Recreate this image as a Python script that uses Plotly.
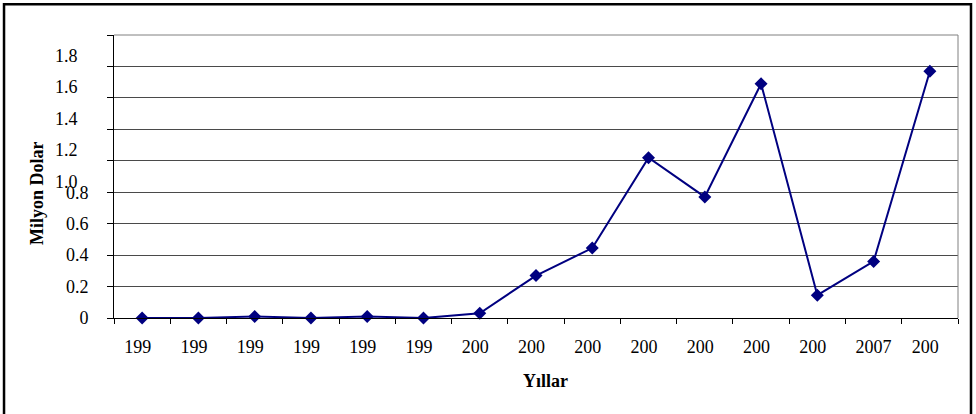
import plotly.graph_objects as go

years = [1994, 1995, 1996, 1997, 1998, 1999, 2000, 2001, 2002, 2003, 2004, 2005, 2006, 2007, 2008]
values = [0.0, 0.0, 0.01, 0.0, 0.01, 0.0, 0.03, 0.27, 0.445, 1.02, 0.77, 1.49, 0.145, 0.36, 1.57]
# tick labels as displayed (last digit clipped in the original, except 2007)
x_labels = ["199", "199", "199", "199", "199", "199", "200", "200", "200", "200", "200", "200", "200", "2007", "200"]
y_tickvals = [0, 0.2, 0.4, 0.6, 0.8, 1.0, 1.2, 1.4, 1.6, 1.8]
y_ticktext = ["0", "0.2", "0.4", "0.6", "0.8"]
y_shifted_labels = ["1.0", "1.2", "1.4", "1.6", "1.8"]

FONT = "'Liberation Serif', 'Times New Roman', 'DejaVu Serif', serif"
hidden = "<span style='color:rgba(0,0,0,0)'>{}</span>"

ticktext_x = []
for y, lab in zip(years, x_labels):
    s = str(y)
    if lab != s:
        ticktext_x.append(lab + hidden.format(s[len(lab):]))
    else:
        ticktext_x.append(lab)

cats = [str(y) for y in years]

fig = go.Figure()
fig.add_trace(go.Scatter(
    x=cats, y=values, mode="lines+markers",
    line=dict(color="#000080", width=2),
    marker=dict(symbol="diamond", size=10, color="#000080"),
    showlegend=False, cliponaxis=False,
))

full_ticktext = y_ticktext + [""] * (len(y_tickvals) - len(y_ticktext))

fig.update_layout(
    width=976, height=414,
    margin=dict(l=114, r=18, t=35, b=96),
    paper_bgcolor="white", plot_bgcolor="white",
    font=dict(family=FONT, size=18, color="black"),
    xaxis=dict(
        type="category", range=[-0.5, len(cats) - 0.5],
        tickvals=cats, ticktext=ticktext_x,
        tickson="boundaries", ticks="outside", ticklen=5, tickcolor="black",
        showline=True, linecolor="black", linewidth=1,
        showgrid=False, ticklabelstandoff=12,
        tickfont=dict(family=FONT, size=18, color="black"),
    ),
    yaxis=dict(
        range=[0, 1.8], tickvals=y_tickvals, ticktext=full_ticktext,
        ticks="outside", ticklen=6, tickcolor="black",
        showline=True, linecolor="black", linewidth=1,
        showgrid=True, gridcolor="#4a4a4a", gridwidth=1,
        zeroline=False, ticklabelstandoff=15,
        tickfont=dict(family=FONT, size=18, color="black"),
    ),
)

# shifted upper y labels (as they appear in the original)
for lab in y_shifted_labels:
    v = float(lab)
    fig.add_annotation(
        xref="paper", yref="y", x=-0.0403, y=v - 0.133, text=lab,
        showarrow=False, xanchor="right", yanchor="middle",
        font=dict(family=FONT, size=18, color="black"),
    )

fig.add_annotation(
    xref="paper", yref="paper", x=-0.0912, y=0.442, text="<b>Milyon Dolar</b>",
    textangle=-90, showarrow=False, xanchor="center", yanchor="middle",
    font=dict(family=FONT, size=18, color="black"),
)
fig.add_annotation(
    xref="paper", yref="paper", x=0.5118, y=-0.221, text="<b>Yıllar</b>",
    showarrow=False, xanchor="center", yanchor="middle",
    font=dict(family=FONT, size=18, color="black"),
)

# plot area top/right border (grey)
fig.add_shape(type="line", xref="paper", yref="paper", x0=0, x1=1, y0=1, y1=1,
              line=dict(color="#808080", width=1), layer="above")
fig.add_shape(type="line", xref="paper", yref="paper", x0=1, x1=1, y0=0, y1=1,
              line=dict(color="#808080", width=1), layer="above")
# outer chart frame (open at the bottom)
fig.add_shape(type="path", xref="paper", yref="paper",
              path="M -0.1303,-0.40 L -0.1303,1.1083 L 1.0154,1.1083 L 1.0154,-0.40",
              line=dict(color="black", width=2.5), layer="above")

fig.write_html("out.html", config={"displayModeBar": False},
               post_script="document.body.style.margin='0';")
